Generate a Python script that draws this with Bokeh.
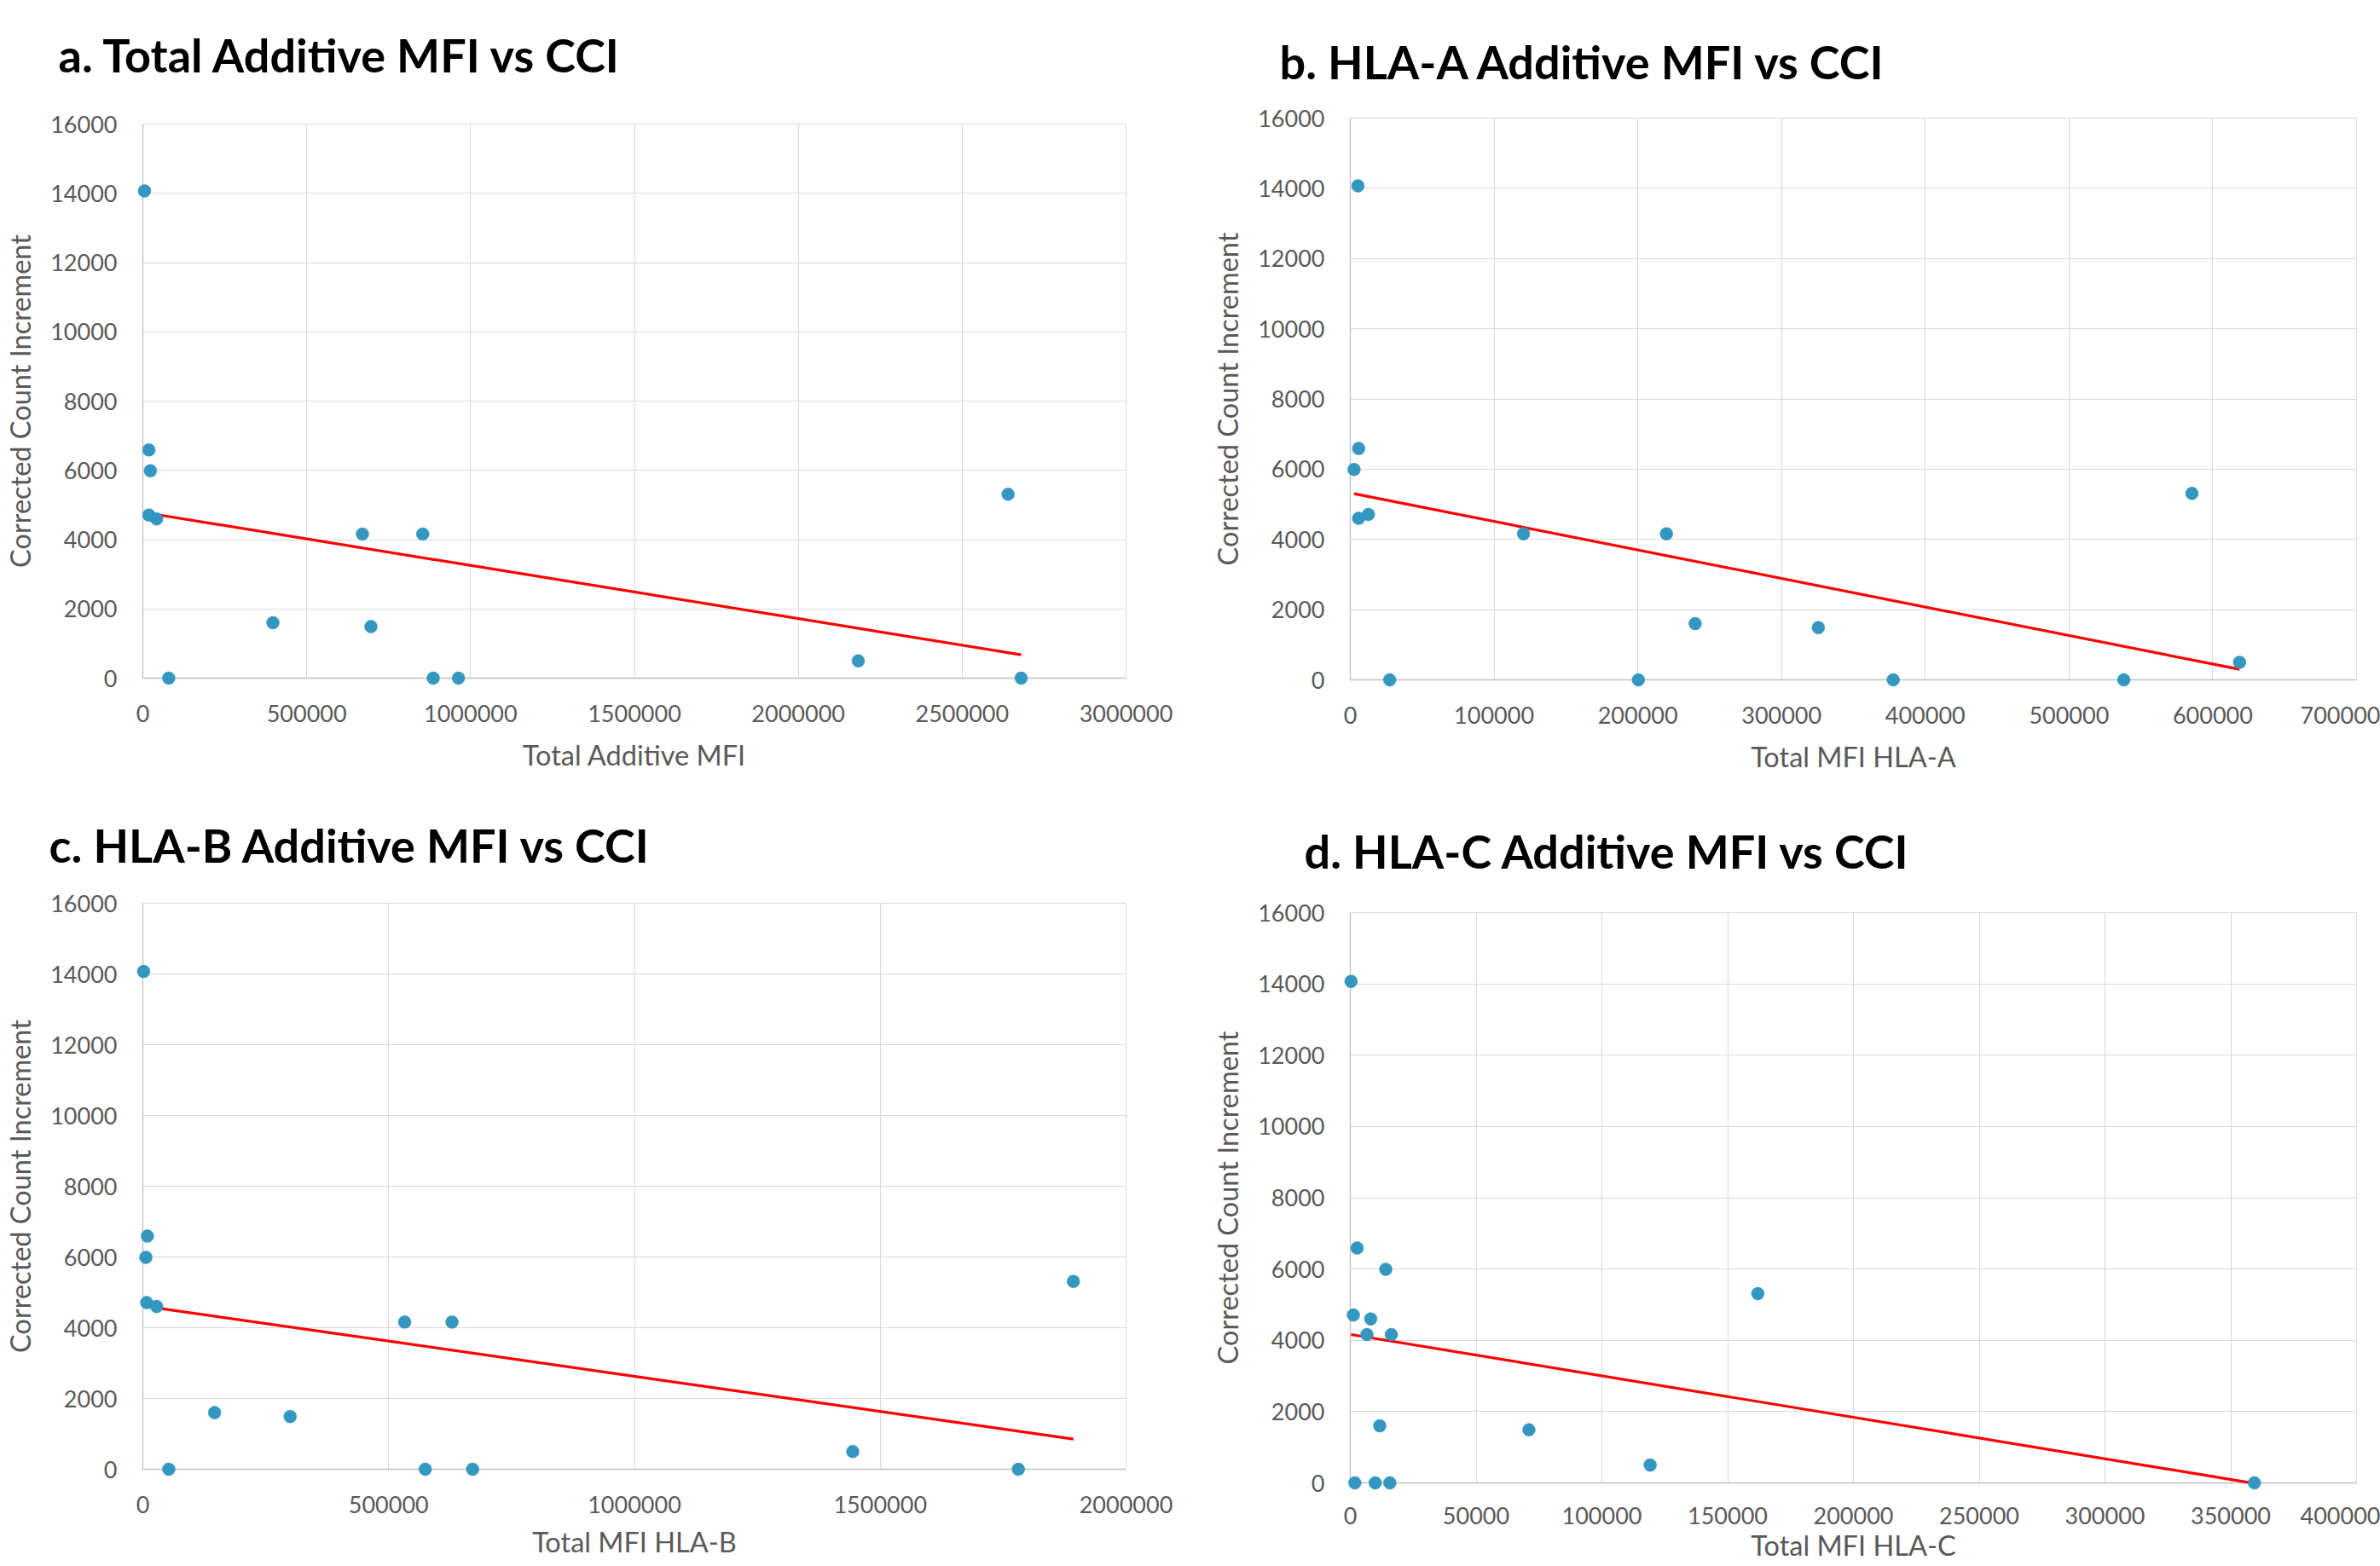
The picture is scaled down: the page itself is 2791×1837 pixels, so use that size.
import numpy as np
from bokeh.plotting import figure
from bokeh.layouts import column, row
from bokeh.models import Range1d, NumeralTickFormatter, Title
from bokeh.embed import file_html
from bokeh.resources import INLINE

# ---- data ----
cci = [14070, 6590, 5990, 4710, 4600, 4160, 4160, 1600, 1490, 500, 5310, 0, 0, 0, 0]
mfi_total = [5000, 18500, 23000, 18500, 42000, 670000, 854000, 397000, 696000,
             2183000, 2640000, 79000, 886000, 963000, 2680000]
mfi_hla_a = [5300, 5800, 2600, 12600, 5800, 120500, 219900, 239900, 325600,
             618600, 585500, 27400, 200400, 377700, 538100]
mfi_hla_b = [1600, 9300, 6200, 7800, 28000, 532600, 628900, 146000, 299700,
             1444100, 1892900, 52800, 670800, 574500, 1781000]
mfi_hla_c = [300, 2700, 14100, 1200, 8100, 16300, 6600, 11700, 71000,
             119200, 162000, 1800, 15700, 9900, 359400]

titles = ["a. Total Additive MFI vs CCI", "b. HLA-A Additive MFI vs CCI",
          "c. HLA-B Additive MFI vs CCI", "d. HLA-C Additive MFI vs CCI"]
x_labels = ["Total Additive MFI", "Total MFI HLA-A", "Total MFI HLA-B", "Total MFI HLA-C"]
y_label = "Corrected Count Increment"

x_ticks_a = [0, 500000, 1000000, 1500000, 2000000, 2500000, 3000000]
x_ticks_b = [0, 100000, 200000, 300000, 400000, 500000, 600000, 700000]
x_ticks_c = [0, 500000, 1000000, 1500000, 2000000]
x_ticks_d = [0, 50000, 100000, 150000, 200000, 250000, 300000, 350000, 400000]
y_ticks = [0, 2000, 4000, 6000, 8000, 10000, 12000, 14000, 16000]

FONT = "Lato"
MARKER = "#3497C0"
GRID = "#D9D9D9"
AXIS = "#BFBFBF"
TXT = "#595959"


def panel(xv, title, xlabel, xticks, geom, title_off, title_gap,
          xtick_standoff=31, xlabel_standoff=16):
    w, h, ml, mr, mt, mb = geom
    p = figure(width=w, height=h, title=None,
               x_range=Range1d(xticks[0], xticks[-1]),
               y_range=Range1d(y_ticks[0], y_ticks[-1]),
               output_backend="svg", toolbar_location=None,
               min_border_left=ml, min_border_right=mr,
               min_border_top=mt, min_border_bottom=mb)
    p.background_fill_color = "white"
    p.border_fill_color = "white"
    p.outline_line_color = GRID
    p.outline_line_width = 1

    # thin spacer between the frame and the panel title
    p.add_layout(Title(text=" ", text_font_size="1px", standoff=title_gap), "above")
    p.add_layout(Title(text=title, align="left", offset=title_off, standoff=0,
                       text_font=FONT, text_font_size="54px", text_font_style="bold",
                       text_color="black"), "above")

    for ax in (p.xaxis, p.yaxis):
        ax.axis_line_color = AXIS
        ax.axis_line_width = 1.3
        ax.major_tick_line_color = None
        ax.minor_tick_line_color = None
        ax.major_tick_out = 0
        ax.major_tick_in = 0
        ax.major_label_text_font = FONT
        ax.major_label_text_font_size = "27px"
        ax.major_label_text_color = TXT
        ax.axis_label_text_font = FONT
        ax.axis_label_text_font_size = "32.5px"
        ax.axis_label_text_font_style = "normal"
        ax.axis_label_text_color = TXT
        ax.formatter = NumeralTickFormatter(format="0")

    p.xaxis.ticker = xticks
    p.yaxis.ticker = y_ticks
    p.xaxis.major_label_standoff = xtick_standoff
    p.yaxis.major_label_standoff = 30
    p.yaxis.axis_label = y_label
    p.yaxis.axis_label_standoff = 13
    p.xaxis.axis_label = xlabel
    p.xaxis.axis_label_standoff = xlabel_standoff

    p.xgrid.grid_line_color = GRID
    p.ygrid.grid_line_color = GRID
    p.xgrid.grid_line_width = 1
    p.ygrid.grid_line_width = 1

    slope, intercept = np.polyfit(np.array(xv, float), np.array(cci, float), 1)
    xs = np.array([min(xv), max(xv)], float)
    p.line(xs, slope * xs + intercept, line_color="#FF0000", line_width=3.2, level="overlay")
    p.scatter(xv, cci, size=15, fill_color=MARKER, line_color=MARKER, line_width=0.5, level="overlay")
    return p


pa = panel(mfi_total, titles[0], x_labels[0], x_ticks_a, (1400, 925, 167, 80, 145, 130), -99, 46)
pc = panel(mfi_hla_b, titles[2], x_labels[2], x_ticks_c, (1400, 912, 167, 80, 134, 114), -110, 33,
           xtick_standoff=31, xlabel_standoff=11)
pb = panel(mfi_hla_a, titles[1], x_labels[1], x_ticks_b, (1391, 925, 183, 28, 138, 128), -83, 31)
pd = panel(mfi_hla_c, titles[3], x_labels[3], x_ticks_d, (1391, 912, 183, 28, 145, 98), -54, 37,
           xtick_standoff=28, xlabel_standoff=2)

layout = row(column(pa, pc), column(pb, pd))
open("out.html", "w").write(file_html(layout, INLINE))
